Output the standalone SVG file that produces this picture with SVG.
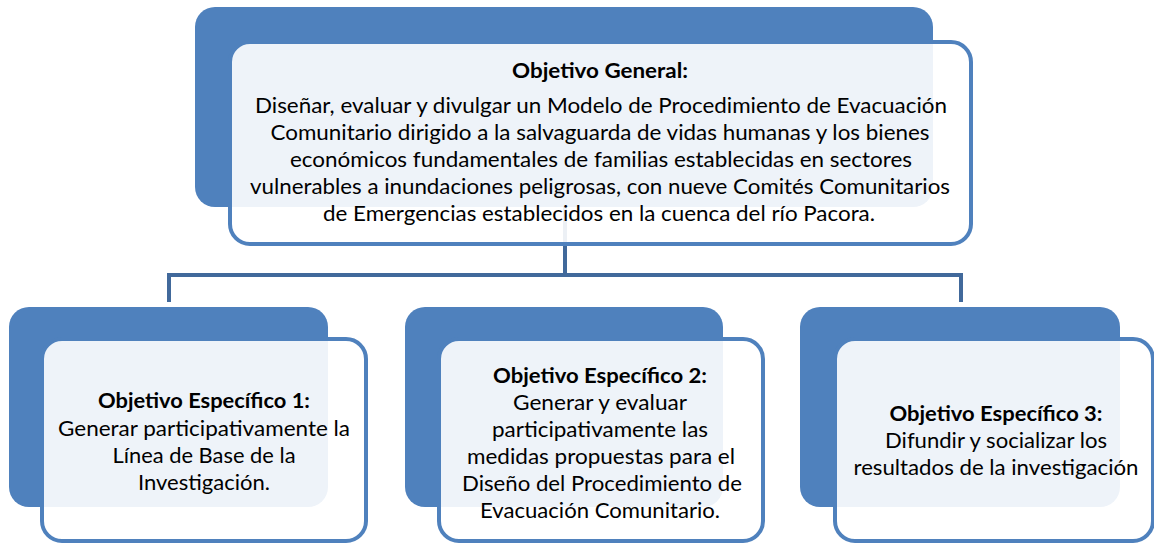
<svg xmlns="http://www.w3.org/2000/svg" width="1154" height="544" viewBox="0 0 1154 544">
<style>
.back{fill:#4F81BD}
.front{fill:#FFFFFF;fill-opacity:0.9;stroke:#4F81BD;stroke-width:4}
.conn{fill:none;stroke:#41699B;stroke-width:4;stroke-linejoin:miter;stroke-linecap:butt}
text{font-family:Lato,"Liberation Sans",sans-serif;font-size:21px;fill:#000;text-anchor:middle}
.b{font-weight:bold}
</style>
<rect width="1154" height="544" fill="#FFFFFF"/>
<g id="connectors">
<line class="conn" x1="565" y1="200" x2="565" y2="275"/>
<polyline class="conn" points="169,302 169,275 961,275 961,302"/>
</g>
<g id="general">
<rect class="back" x="195" y="7" width="738" height="200" rx="20"/>
<rect class="front" x="230" y="42" width="741" height="202" rx="20"/>
<text class="b" x="600" y="78" textLength="176" lengthAdjust="spacingAndGlyphs">Objetivo General:</text>
<text x="601" y="113" textLength="692" lengthAdjust="spacingAndGlyphs">Diseñar, evaluar y divulgar un Modelo de Procedimiento de Evacuación</text>
<text x="600" y="140" textLength="659" lengthAdjust="spacingAndGlyphs">Comunitario dirigido a la salvaguarda de vidas humanas y los bienes</text>
<text x="601" y="167" textLength="622" lengthAdjust="spacingAndGlyphs">económicos fundamentales de familias establecidas en sectores</text>
<text x="600" y="194" textLength="700" lengthAdjust="spacingAndGlyphs">vulnerables a inundaciones peligrosas, con nueve Comités Comunitarios</text>
<text x="599" y="221" textLength="552" lengthAdjust="spacingAndGlyphs">de Emergencias establecidos en la cuenca del río Pacora.</text>
</g>
<g id="especifico1">
<rect class="back" x="9" y="307" width="319" height="200" rx="20"/>
<rect class="front" x="42" y="339" width="324" height="202" rx="20"/>
<text class="b" x="204" y="408" textLength="212" lengthAdjust="spacingAndGlyphs">Objetivo Específico 1:</text>
<text x="204" y="436" textLength="292" lengthAdjust="spacingAndGlyphs">Generar participativamente la</text>
<text x="204" y="463" textLength="183" lengthAdjust="spacingAndGlyphs">Línea de Base de la</text>
<text x="204" y="490" textLength="132" lengthAdjust="spacingAndGlyphs">Investigación.</text>
</g>
<g id="especifico2">
<rect class="back" x="405" y="307" width="318" height="200" rx="20"/>
<rect class="front" x="439" y="339" width="324" height="202" rx="20"/>
<text class="b" x="600" y="383" textLength="214" lengthAdjust="spacingAndGlyphs">Objetivo Específico 2:</text>
<text x="600" y="410" textLength="174" lengthAdjust="spacingAndGlyphs">Generar y evaluar</text>
<text x="600" y="437" textLength="216" lengthAdjust="spacingAndGlyphs">participativamente las</text>
<text x="601" y="464" textLength="268" lengthAdjust="spacingAndGlyphs">medidas propuestas para el</text>
<text x="602" y="491" textLength="280" lengthAdjust="spacingAndGlyphs">Diseño del Procedimiento de</text>
<text x="600" y="518" textLength="240" lengthAdjust="spacingAndGlyphs">Evacuación Comunitario.</text>
</g>
<g id="especifico3">
<rect class="back" x="800" y="307" width="320" height="200" rx="20"/>
<rect class="front" x="835" y="339" width="318" height="202" rx="20"/>
<text class="b" x="996" y="421" textLength="213" lengthAdjust="spacingAndGlyphs">Objetivo Específico 3:</text>
<text x="996" y="448" textLength="222" lengthAdjust="spacingAndGlyphs">Difundir y socializar los</text>
<text x="996" y="475" textLength="285" lengthAdjust="spacingAndGlyphs">resultados de la investigación</text>
</g>
</svg>
